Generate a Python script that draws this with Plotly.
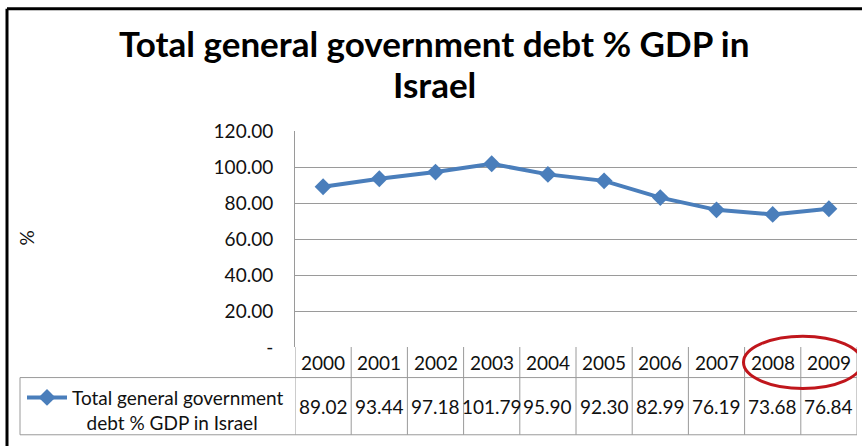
import plotly.graph_objects as go

years = ["2000", "2001", "2002", "2003", "2004", "2005", "2006", "2007", "2008", "2009"]
debt = [89.02, 93.44, 97.18, 101.79, 95.90, 92.30, 82.99, 76.19, 73.68, 76.84]
debt_text = ["89.02", "93.44", "97.18", "101.79", "95.90", "92.30", "82.99", "76.19", "73.68", "76.84"]
y_tickvals = [0, 20, 40, 60, 80, 100, 120]
y_ticktext = ["-", "20.00", "40.00", "60.00", "80.00", "100.00", "120.00"]
series_name = "Total general government<br>\u00a0\u00a0\u00a0debt % GDP in Israel"
title_lines = ["Total general government debt % GDP in", "Israel"]

W, H = 862, 446
L, R, T, B = 295, 5, 131, 96
PW = W - L - R
PH = H - T - B

def py(pix):
    return (H - B - pix) / PH

def px(pix):
    return (pix - L) / PW

FONT = "Lato"
TXT = "#111111"
GRID = "#9a9a9a"
BLUE = "#4a7ebb"
FS = 19

fig = go.Figure()
fig.add_trace(go.Scatter(
    x=years, y=debt, mode="lines+markers", name=series_name,
    line=dict(color=BLUE, width=4),
    marker=dict(symbol="diamond", size=13, color=BLUE),
    cliponaxis=False,
))

shapes = []
hdr_bot = py(381)
tbl_bot = py(439)
leg_left = px(20)
for i in range(len(years) + 1):
    shapes.append(dict(type="line", xref="x", yref="paper", x0=i - 0.5, x1=i - 0.5,
                       y0=0, y1=tbl_bot, line=dict(color=GRID, width=1)))
for yy in [hdr_bot, tbl_bot]:
    shapes.append(dict(type="line", xref="paper", yref="paper", x0=leg_left, x1=1,
                       y0=yy, y1=yy, line=dict(color=GRID, width=1)))
shapes.append(dict(type="line", xref="paper", yref="paper", x0=leg_left, x1=leg_left,
                   y0=hdr_bot, y1=tbl_bot, line=dict(color=GRID, width=1)))
bx = px(7)
by = py(7)
shapes.append(dict(type="line", xref="paper", yref="paper", x0=bx, x1=bx,
                   y0=py(460), y1=by, line=dict(color="black", width=3)))
shapes.append(dict(type="line", xref="paper", yref="paper", x0=bx, x1=px(880),
                   y0=by, y1=by, line=dict(color="black", width=3)))
shapes.append(dict(type="circle", xref="x", yref="paper", x0=7.48, x1=9.59,
                   y0=py(392), y1=py(339), line=dict(color="#c0161c", width=3)))

annotations = []
for i, yr in enumerate(years):
    annotations.append(dict(x=i, y=py(366), xref="x", yref="paper", text=yr,
                            xanchor="center", yanchor="middle",
                            showarrow=False, font=dict(family=FONT, size=FS, color=TXT)))
    annotations.append(dict(x=i, y=py(410), xref="x", yref="paper", text=debt_text[i],
                            xanchor="center", yanchor="middle",
                            showarrow=False, font=dict(family=FONT, size=FS, color=TXT)))
annotations.append(dict(x=px(27), y=py(240), xref="paper", yref="paper", text="%",
                        textangle=-90, showarrow=False, xanchor="center", yanchor="middle",
                        font=dict(family=FONT, size=FS, color=TXT)))
for line_text, cy in zip(title_lines, [42, 83]):
    annotations.append(dict(x=px(434), y=py(cy), xref="paper", yref="paper", text=line_text,
                            xanchor="center", yanchor="middle", showarrow=False,
                            font=dict(family=FONT, size=35, color="black", weight="bold")))

fig.update_layout(
    width=W, height=H,
    margin=dict(l=L, r=R, t=T, b=B),
    paper_bgcolor="white", plot_bgcolor="white",
    xaxis=dict(type="category", range=[-0.5, 9.5], showgrid=False, showline=False,
               showticklabels=False, zeroline=False, ticks=""),
    yaxis=dict(range=[0, 120], tickvals=y_tickvals, ticktext=y_ticktext,
               showgrid=True, gridcolor=GRID, gridwidth=1, zeroline=False,
               showline=True, linecolor=GRID, linewidth=1, ticks="",
               ticklabelstandoff=17,
               tickfont=dict(family=FONT, size=FS, color=TXT)),
    showlegend=True,
    legend=dict(x=px(22), xanchor="left", y=py(382), yanchor="top",
                bgcolor="rgba(0,0,0,0)", borderwidth=0, valign="top",
                font=dict(family=FONT, size=FS, color=TXT),
                itemwidth=40, itemsizing="trace"),
    shapes=shapes,
    annotations=annotations,
)

fig.write_html("out.html")
